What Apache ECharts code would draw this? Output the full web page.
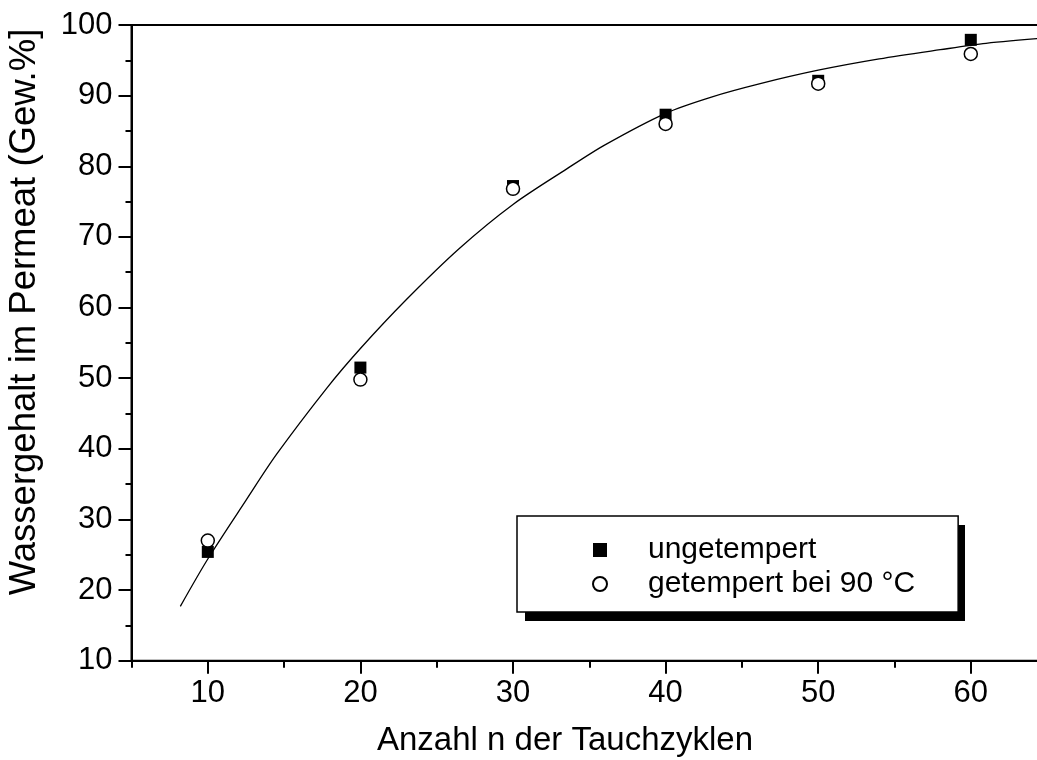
<!DOCTYPE html>
<html>
<head>
<meta charset="utf-8">
<script src="https://cdn.jsdelivr.net/npm/echarts@6/dist/echarts.min.js"></script>
<style>
html,body{margin:0;padding:0;background:#fff;overflow:hidden;width:1037px;height:760px;}
#c{width:1060px;height:760px;}
</style>
</head>
<body>
<div id="c"></div>
<script>
// ---- data ----
const nCycles = [10, 20, 30, 40, 50, 60];
const untempered = [25.4, 51.5, 77.2, 87.3, 92.1, 97.9];
const tempered = [27.0, 49.8, 76.8, 86.0, 91.7, 95.9];
const fitN = [8.2, 10, 12.5, 14.5, 17.8, 20, 23, 26.5, 30, 33.5, 36, 40, 43, 46.2, 50, 54, 58, 61, 65];
const fitV = [17.7, 24.4, 32.7, 39.2, 48.6, 54.2, 61.1, 68.4, 74.6, 79.6, 83.0, 87.5, 89.8, 91.7, 93.6, 95.2, 96.5, 97.4, 98.2];
const seriesNames = ['ungetempert', 'getempert bei 90 °C'];
const xTitle = 'Anzahl n der Tauchzyklen';
const yTitle = 'Wassergehalt im Permeat (Gew.%]';

const FONT = "'Liberation Sans', Arial, Helvetica, sans-serif";
const pairs = (xs, ys) => xs.map((x, i) => [x, ys[i]]);

// geometry
const L = 131.5, T = 25, W = 915.6, H = 635.7;
const pxPerUnit = W / 60;

const chart = echarts.init(document.getElementById('c'), null, {renderer: 'canvas'});
chart.setOption({
  animation: false,
  backgroundColor: '#fff',
  grid: [
    {left: L, top: T, width: W, height: H, show: true, borderColor: '#000', borderWidth: 2, backgroundColor: 'transparent'},
    {left: L + 5 * pxPerUnit, top: T, width: W - 5 * pxPerUnit, height: H, show: false}
  ],
  xAxis: [
    {
      type: 'value', gridIndex: 0, min: 5, max: 65, interval: 5,
      axisLine: {show: true, onZero: false, lineStyle: {color: '#000', width: 2}},
      axisTick: {show: true, inside: false, length: 7, lineStyle: {color: '#000', width: 2}},
      axisLabel: {show: false},
      splitLine: {show: false}
    },
    {
      type: 'value', gridIndex: 1, min: 10, max: 65, interval: 10,
      axisLine: {show: false, onZero: false},
      axisTick: {show: true, inside: false, length: 13, lineStyle: {color: '#000', width: 2}},
      axisLabel: {
        show: true, margin: 17, color: '#000', fontSize: 31, fontFamily: FONT,
        formatter: v => (v % 10 === 0 ? String(v) : '')
      },
      splitLine: {show: false}
    }
  ],
  yAxis: [
    {
      type: 'value', gridIndex: 0, min: 10, max: 100, interval: 10,
      axisLine: {show: true, onZero: false, lineStyle: {color: '#000', width: 2}},
      axisTick: {show: true, inside: false, length: 13, lineStyle: {color: '#000', width: 2}},
      minorTick: {show: true, splitNumber: 2, length: 6, lineStyle: {color: '#000', width: 2}},
      axisLabel: {show: true, margin: 19, color: '#000', fontSize: 31, fontFamily: FONT},
      splitLine: {show: false}
    },
    {
      type: 'value', gridIndex: 1, min: 10, max: 100, interval: 10,
      axisLine: {show: false}, axisTick: {show: false}, axisLabel: {show: false}, splitLine: {show: false}
    }
  ],
  legend: {
    data: seriesNames,
    orient: 'vertical',
    left: 517, top: 516,
    padding: [17, 43, 11, 75],
    itemGap: 0,
    itemWidth: 14, itemHeight: 14,
    backgroundColor: '#fff',
    borderColor: '#000', borderWidth: 1.5,
    selectedMode: false,
    z: 10,
    textStyle: {color: '#000', fontSize: 30, fontFamily: FONT, lineHeight: 34, padding: [0, 0, 0, 36]}
  },
  graphic: [
    {
      type: 'rect', z: 5,
      shape: {x: 525, y: 525, width: 440, height: 96},
      style: {fill: '#000'}
    },
    {
      type: 'text', x: 565, y: 741,
      style: {text: xTitle, fontSize: 33, fontFamily: FONT, fill: '#000', align: 'center', verticalAlign: 'middle'}
    },
    {
      type: 'text', x: 25, y: 312, rotation: Math.PI / 2,
      style: {text: yTitle, fontSize: 36.5, fontFamily: FONT, fill: '#000', align: 'center', verticalAlign: 'middle'}
    }
  ],
  series: [
    {
      name: 'fit', type: 'line', xAxisIndex: 0, yAxisIndex: 0,
      data: pairs(fitN, fitV), smooth: 0.3, showSymbol: false, symbol: 'none',
      lineStyle: {color: '#000', width: 1.3}, z: 2, silent: true
    },
    {
      name: seriesNames[0], type: 'scatter', xAxisIndex: 0, yAxisIndex: 0,
      data: pairs(nCycles, untempered), symbol: 'rect', symbolSize: 12,
      itemStyle: {color: '#000', opacity: 1}, z: 3
    },
    {
      name: seriesNames[1], type: 'scatter', xAxisIndex: 0, yAxisIndex: 0,
      data: pairs(nCycles, tempered), symbol: 'circle', symbolSize: 13,
      itemStyle: {color: '#fff', borderColor: '#000', borderWidth: 1.5, opacity: 1}, z: 4
    }
  ]
});
</script>
</body>
</html>
